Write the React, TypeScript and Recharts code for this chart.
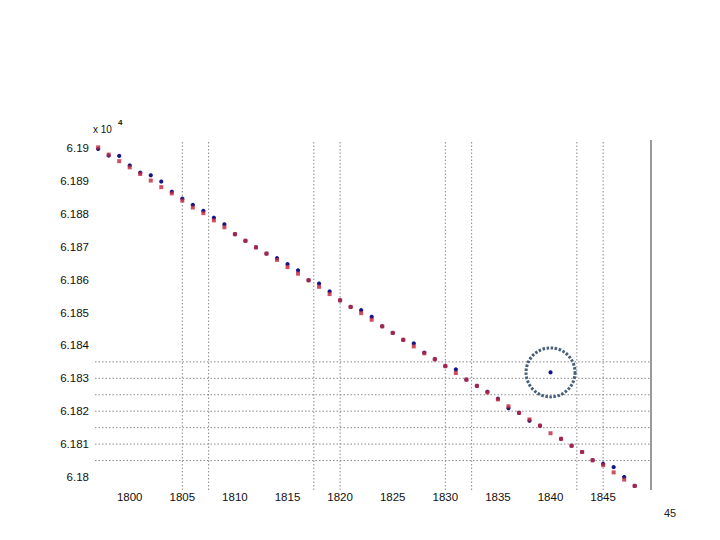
import { ScatterChart, Scatter, XAxis, YAxis, ReferenceLine, ReferenceDot } from 'recharts';

const years = [
  1797, 1798, 1799, 1800, 1801, 1802, 1803, 1804, 1805, 1806, 1807, 1808, 1809,
  1810, 1811, 1812, 1813, 1814, 1815, 1816, 1817, 1818, 1819, 1820, 1821, 1822,
  1823, 1824, 1825, 1826, 1827, 1828, 1829, 1830, 1831, 1832, 1833, 1834, 1835,
  1836, 1837, 1838, 1839, 1840, 1841, 1842, 1843, 1844, 1845, 1846, 1847, 1848,
];

const redVals = [
  6.19002, 6.1898, 6.1896, 6.18941, 6.18921, 6.18901, 6.18881, 6.18862, 6.1884, 6.18819, 6.18802, 6.1878, 6.18759,
  6.18738, 6.18718, 6.18698, 6.18679, 6.1866, 6.18638, 6.18618, 6.18598, 6.18578, 6.18556, 6.18537, 6.18517, 6.18498,
  6.18478, 6.18458, 6.18438, 6.18417, 6.18397, 6.18376, 6.18358, 6.18337, 6.18316, 6.18296, 6.18277, 6.18257, 6.18236,
  6.18215, 6.18195, 6.18175, 6.18156, 6.18133, 6.18116, 6.18095, 6.18076, 6.18051, 6.18036, 6.18014, 6.17992, 6.17973,
];

const blueVals = [
  6.18997, 6.18977, 6.18976, 6.18947, 6.18925, 6.18917, 6.18898, 6.18867, 6.18846, 6.18827, 6.18809, 6.18788, 6.18768,
  6.18738, 6.18718, 6.18698, 6.18679, 6.18665, 6.18647, 6.18628, 6.18598, 6.18588, 6.18564, 6.18537, 6.18517, 6.18507,
  6.18487, 6.18458, 6.18438, 6.18417, 6.18406, 6.18378, 6.18358, 6.18337, 6.18327, 6.18296, 6.18277, 6.18259, 6.18238,
  6.18209, 6.18195, 6.18171, 6.18156, 6.18318, 6.18116, 6.18095, 6.18076, 6.18051, 6.1804, 6.1803, 6.18, 6.17973,
];

const xTicks = [1800, 1805, 1810, 1815, 1820, 1825, 1830, 1835, 1840, 1845];
const yTicks = [6.18, 6.181, 6.182, 6.183, 6.184, 6.185, 6.186, 6.187, 6.188, 6.189, 6.19];
const vLines = [1805, 1807.5, 1817.5, 1820, 1830, 1832.5, 1842.5, 1845];
const hLines = [6.1805, 6.181, 6.1815, 6.182, 6.1825, 6.183, 6.1835];
const outlier = { year: 1840, value: 6.18318 };

const X_DOMAIN: [number, number] = [1796.7, 1849.55];
const Y_DOMAIN: [number, number] = [6.179605, 6.190243];

const redData = years.map((y, i) => ({ x: y, y: redVals[i] }));
const blueData = years.map((y, i) => ({ x: y, y: blueVals[i] }));

const RED = '#c42a40';
const BLUE = '#141488';
const GRID = '#8a8a8a';
const FONT = '"Liberation Sans", Arial, sans-serif';

const RedMark = (p: any) => (
  <rect x={p.cx - 2} y={p.cy - 2} width={4} height={4} fill={RED} fillOpacity={0.82} />
);

// small plus, hidden under the red square where both series agree
const BlueMark = (p: any) => (
  <g fill={BLUE}>
    <rect x={p.cx - 2} y={p.cy - 1} width={4} height={2} />
    <rect x={p.cx - 1} y={p.cy - 2} width={2} height={4} />
    <rect x={p.cx - 1.5} y={p.cy - 1.5} width={3} height={3} />
  </g>
);

const fmtY = (v: number) => String(Number(v.toFixed(3)));

export default function App() {
  return (
    <div style={{ position: 'absolute', left: 0, top: 0, width: 720, height: 540, background: '#fff', fontFamily: FONT }}>
      <ScatterChart width={720} height={540} margin={{ top: 140, right: 69, bottom: 0, left: 35 }}>
        <XAxis
          type="number" dataKey="x" domain={X_DOMAIN} ticks={xTicks} height={50}
          axisLine={false} tickLine={false} tickSize={0} tickMargin={3}
          tick={{ fill: '#111', fontSize: 11.5, fontFamily: FONT }}
        />
        <YAxis
          type="number" dataKey="y" domain={Y_DOMAIN} ticks={yTicks} width={60}
          axisLine={false} tickLine={false} tickSize={0} tickMargin={6}
          tickFormatter={fmtY}
          tick={{ fill: '#111', fontSize: 11.5, fontFamily: FONT }}
        />
        {hLines.map((v) => (
          <ReferenceLine key={'h' + v} y={v} stroke={GRID} strokeDasharray="1.5 2" />
        ))}
        {vLines.map((v) => (
          <ReferenceLine key={'v' + v} x={v} stroke={GRID} strokeDasharray="1.5 2" />
        ))}
        <ReferenceLine x={X_DOMAIN[1]} stroke="#777" strokeWidth={1.5} />
        <Scatter data={blueData} shape={BlueMark} isAnimationActive={false} />
        <Scatter data={redData} shape={RedMark} isAnimationActive={false} />
        <ReferenceDot
          x={outlier.year} y={outlier.value} r={24.5}
          fill="none" stroke="#46607a" strokeWidth={3} strokeDasharray="2.5 1.6"
        />
      </ScatterChart>
      <div style={{ position: 'absolute', left: 93, top: 124, fontSize: 10, color: '#111' }}>x 10</div>
      <div style={{ position: 'absolute', left: 118, top: 118, fontSize: 8, fontWeight: 'bold', color: '#111' }}>4</div>
      <div style={{ position: 'absolute', left: 664, top: 507, fontSize: 11, color: '#222' }}>45</div>
    </div>
  );
}
